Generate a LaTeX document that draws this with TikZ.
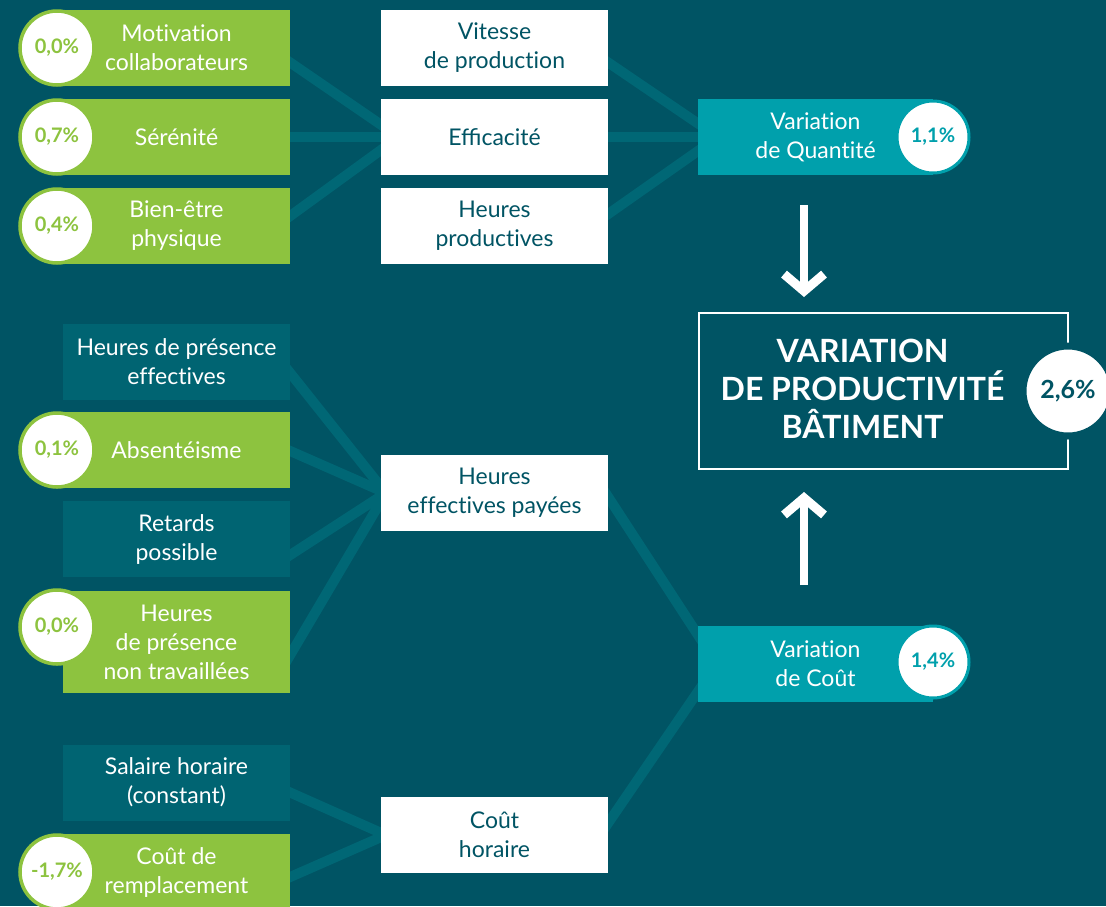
\documentclass[tikz,border=0pt]{standalone}
\usepackage{fontspec}
\setmainfont{Lato}[Ligatures=NoCommon]
\usetikzlibrary{arrows.meta, positioning, backgrounds}
\definecolor{bgteal}{RGB}{0,84,100}
\definecolor{boxteal}{RGB}{0,100,114}
\definecolor{wireteal}{RGB}{0,103,117}
\definecolor{varteal}{RGB}{0,160,172}
\definecolor{leaf}{RGB}{141,195,63}
\tikzstyle{greenbox} = [rectangle, minimum width=227pt, minimum height=76pt, inner sep=0pt, align=center, fill=leaf, text=white, font=\fontsize{23}{29}\selectfont]
\tikzstyle{tealbox} = [greenbox, fill=boxteal]
\tikzstyle{whitebox} = [greenbox, fill=white, text=bgteal]
\tikzstyle{varbox} = [greenbox, minimum width=235pt, fill=varteal]
\tikzstyle{pct} = [circle, minimum size=74pt, inner sep=0pt, fill=white, draw=leaf, line width=3.5pt, text=leaf, font=\bfseries\fontsize{20}{24}\selectfont]
\tikzstyle{varpct} = [pct, minimum size=72pt, line width=3pt, draw=varteal, text=varteal]
\tikzstyle{bigpct} = [pct, minimum size=90pt, line width=7pt, draw=bgteal, text=bgteal, font=\bfseries\fontsize{25}{30}\selectfont]
\tikzstyle{mainbox} = [rectangle, draw=white, line width=2pt, minimum width=369pt, minimum height=156pt]
\tikzstyle{maintxt} = [align=center, text=white, font=\bfseries\fontsize{32}{38}\selectfont]
\tikzstyle{wire} = [line width=10pt, draw=wireteal, shorten <=-10pt, shorten >=-10pt]
\tikzstyle{bigarrow} = [white, line width=8pt, -{Straight Barb[length=17pt, width=40pt, line width=9pt 0]}]

\begin{document}
\begin{tikzpicture}[x=1pt, y=-1pt]
\useasboundingbox (0,0) rectangle (1106,906);
\clip (0,0) rectangle (1106,906);
\begin{scope}[on background layer]
\fill[bgteal] (0,0) rectangle (1106,906);
\end{scope}

% Left column - the factors
\node (mot) [greenbox] at (176.5,47.5) {Motivation\\collaborateurs};
\node (pmot) [pct] at (57,48) {0,0\%};
\node (ser) [greenbox] at (176.5,137) {Sérénité};
\node (pser) [pct] at (57,137) {0,7\%};
\node (bien) [greenbox] at (176.5,226) {Bien-être\\physique};
\node (pbien) [pct] at (57,226) {0,4\%};
\node (hpe) [tealbox] at (176.5,362) {Heures de présence\\effectives};
\node (abs) [greenbox] at (176.5,450) {Absentéisme};
\node (pabs) [pct] at (57,450) {0,1\%};
\node (ret) [tealbox] at (176.5,539) {Retards\\possible};
\node (hnt) [greenbox, minimum height=102pt] at (176.5,642) {Heures\\de présence\\non travaillées};
\node (phnt) [pct] at (57,627) {0,0\%};
\node (sal) [tealbox] at (176.5,782.5) {Salaire horaire\\(constant)};
\node (rem) [greenbox] at (176.5,872) {Coût de\\remplacement};
\node (prem) [pct] at (57,872) {-1,7\%};

% Middle column
\node (vit) [whitebox] at (494.5,47.5) {Vitesse\\de production};
\node (eff) [whitebox] at (494.5,137) {Eﬃcacité};
\node (hprod) [whitebox] at (494.5,226) {Heures\\productives};
\node (hep) [whitebox] at (494.5,493) {Heures\\effectives payées};
\node (ch) [whitebox] at (494.5,835) {Coût\\horaire};

% Right column
\node (qty) [varbox] at (815.5,137) {Variation\\de Quantité};
\node (pqty) [varpct] at (933,137) {1,1\%};
\node (cout) [varbox] at (815.5,664) {Variation\\de Coût};
\node (pcout) [varpct] at (933,662) {1,4\%};
\node (prod) [mainbox] at (883.5,391) {};
\node (prodtxt) [maintxt] at ([xshift=-21pt,yshift=2pt]prod.center) {VARIATION\\DE PRODUCTIVITÉ\\BÂTIMENT};
\node (pprod) [bigpct] at (1068,391) {2,6\%};

% Arrows into the main box
\coordinate (qtyfoot) at (804,205);
\coordinate (coutfoot) at (804,585);
\draw [bigarrow, shorten >=15pt] (qtyfoot) -- (qtyfoot |- prod.north);
\draw [bigarrow, shorten >=22pt] (coutfoot) -- (coutfoot |- prod.south);

% Connecting lines behind the boxes
\begin{scope}[on background layer]
\draw [wire] ([yshift=-15pt]mot.east) -- ([xshift=18pt]eff.west);
\draw [wire] (ser.east) -- ([xshift=18pt]eff.west);
\draw [wire] ([yshift=10pt]bien.east) -- ([xshift=18pt]eff.west);
\draw [wire] ([yshift=-15pt]vit.east) -- ([xshift=20pt]qty.west);
\draw [wire] (eff.east) -- ([xshift=20pt]qty.west);
\draw [wire] ([yshift=12pt]hprod.east) -- ([xshift=20pt]qty.west);
\draw [wire] ([yshift=-11pt]hpe.east) -- ([xshift=5pt]hep.west);
\draw [wire] ([yshift=-1pt]abs.east) -- ([xshift=5pt]hep.west);
\draw [wire] ([yshift=-16pt]ret.east) -- ([xshift=5pt]hep.west);
\draw [wire] ([yshift=-13pt]hnt.east) -- ([xshift=5pt]hep.west);
\draw [wire] ([yshift=-10pt]sal.east) -- ([xshift=5pt]ch.west);
\draw [wire] ([yshift=-5pt]rem.east) -- ([xshift=5pt]ch.west);
\draw [wire] ([yshift=-4pt]hep.east) -- ([xshift=19pt]cout.west);
\draw [wire] ([yshift=12pt]ch.east) -- ([xshift=19pt]cout.west);
\end{scope}
\end{tikzpicture}
\end{document}
